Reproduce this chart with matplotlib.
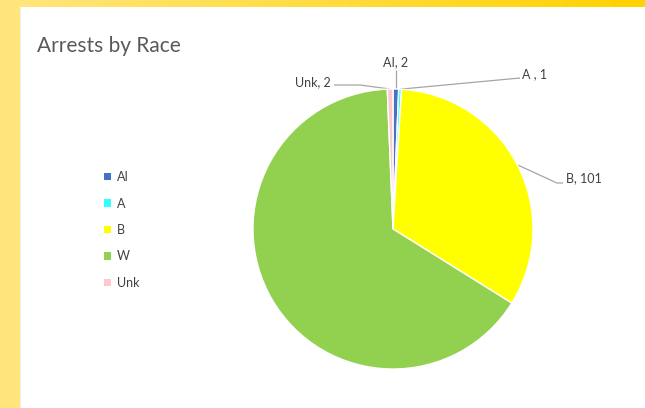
import numpy as np
import matplotlib.pyplot as plt
from matplotlib.patches import Rectangle, Patch
from matplotlib.colors import LinearSegmentedColormap

races = ['AI', 'A', 'B', 'W', 'Unk']
arrests = [2, 1, 101, 201, 2]
colors = ['#4472C4', '#33FFFF', '#FFFF00', '#92D050', '#FFC7CE']
label_text = ['AI, 2', 'A , 1', 'B, 101', 'W, 201', 'Unk, 2']

W, H = 645, 408
fig = plt.figure(figsize=(W / 100, H / 100), dpi=100, facecolor='white')
plt.rcParams['font.family'] = ['Lato', 'DejaVu Sans']

# yellow frame (left strip + gradient top strip)
bg = fig.add_axes([0, 0, 1, 1], zorder=-1)
bg.axis('off')
bg.add_patch(Rectangle((0, 0), 20, H, color='#FFE57A', lw=0))
grad = np.linspace(0, 1, 256).reshape(1, -1)
cmap = LinearSegmentedColormap.from_list('ybar', ['#FFE680', '#FFD200'])
bg.imshow(grad, cmap=cmap, extent=(0, W, 7, 0), aspect='auto')
bg.add_patch(Rectangle((20, 7), 1, H, color='#EEEEEE', lw=0))
bg.set_xlim(0, W)
bg.set_ylim(H, 0)

# pie: centre (393, 229), radius 140 px
cx, cy, r = 393, 229, 140
ax = fig.add_axes([(cx - r) / W, (H - cy - r) / H, 2 * r / W, 2 * r / H])
wedges, _ = ax.pie(arrests, colors=colors, startangle=90, counterclock=False,
                   wedgeprops=dict(edgecolor='white', linewidth=1))
ax.set_xlim(-1, 1)
ax.set_ylim(-1, 1)
ax.set_aspect('equal')

fig.text(37 / W, 1 - 46 / H, 'Arrests by Race', fontsize=15, color='#595959',
         va='center', ha='left')

# rim point of each wedge, in top-origin figure pixels
total = sum(arrests)
angles = []
start = 90.0
for v in arrests:
    span = v / total * 360
    angles.append(np.deg2rad(start - span / 2))
    start -= span

def rim(i, rad=1.0):
    return cx + r * rad * np.cos(angles[i]), cy - r * rad * np.sin(angles[i])

lc = '#A6A6A6'
tc = '#404040'
fs = 9

def line(pts):
    xs, ys = zip(*pts)
    bg.plot(xs, ys, color=lc, lw=0.9, solid_capstyle='butt')

# AI
p = rim(0)
line([p, (p[0], 70)])
bg.text(p[0], 62, label_text[0], fontsize=fs, color=tc, ha='center', va='center')
# A
p = rim(1)
line([p, (520, 78)])
bg.text(522, 74, label_text[1], fontsize=fs, color=tc, ha='left', va='center')
# B
p = rim(2)
line([p, (557, 183), (563, 183)])
bg.text(566, 178, label_text[2], fontsize=fs, color=tc, ha='left', va='center')
# W (inside)
p = rim(3, 0.8)
bg.text(p[0], p[1], label_text[3], fontsize=fs, color=tc, ha='center', va='center')
# Unk
p = rim(4)
line([p, (360, 85), (334, 85)])
bg.text(331, 82, label_text[4], fontsize=fs, color=tc, ha='right', va='center')

handles = [Patch(facecolor=c, edgecolor='none') for c in colors]
fig.legend(handles, races, loc='upper left',
           bbox_to_anchor=(99 / W, 1 - 166 / H), frameon=False,
           fontsize=fs, handlelength=0.55, handleheight=0.55, handletextpad=0.45,
           labelspacing=1.16, labelcolor=tc, borderaxespad=0)

fig.savefig('out.png', dpi=100, facecolor='white')
